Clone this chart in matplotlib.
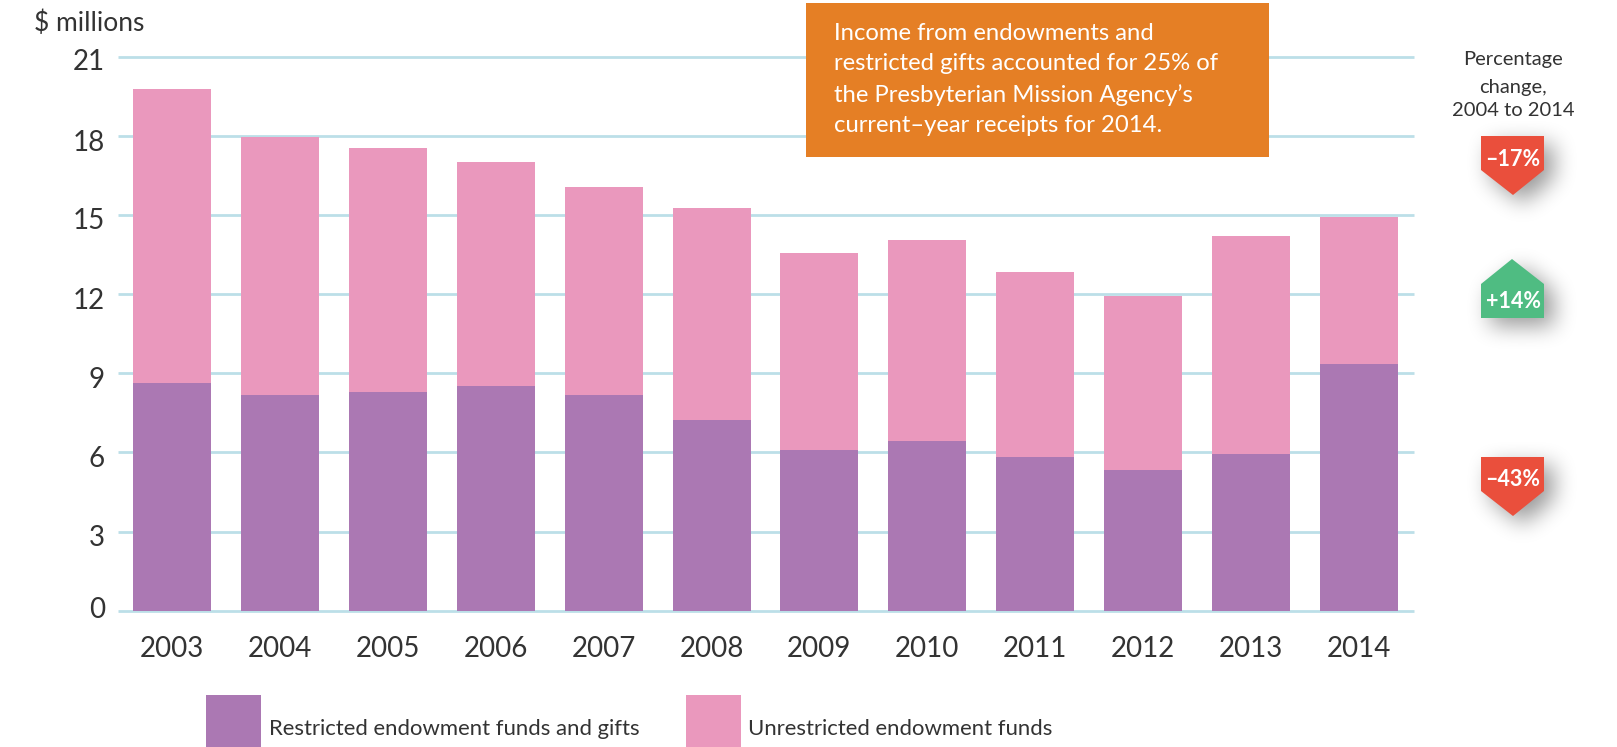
import matplotlib
matplotlib.use("Agg")
import matplotlib.pyplot as plt
import numpy as np
from matplotlib.patches import Polygon, Rectangle
from matplotlib.path import Path
from matplotlib.transforms import ScaledTranslation

plt.rcParams['font.family'] = ['Lato', 'DejaVu Sans']

W, H = 1617, 747

years = [2003, 2004, 2005, 2006, 2007, 2008, 2009, 2010, 2011, 2012, 2013, 2014]
restricted = [8.64, 8.17, 8.29, 8.52, 8.17, 7.23, 6.10, 6.45, 5.83, 5.32, 5.94, 9.34]
totals = [19.78, 17.94, 17.55, 17.00, 16.06, 15.25, 13.56, 14.07, 12.82, 11.92, 14.22, 14.93]
unrestricted = [t - r for t, r in zip(totals, restricted)]
y_ticks = [0, 3, 6, 9, 12, 15, 18, 21]
# labels do not sit exactly on the gridlines in the original (px, + is up)
y_label_shift = [3.5, -4, -4, -4, -4, -3.5, -4.3, -2.3]

restricted_label = "Restricted endowment funds and gifts"
unrestricted_label = "Unrestricted endowment funds"
callout_lines = ["Income from endowments and",
                 "restricted gifts accounted for 25% of",
                 "the Presbyterian Mission Agency\u2019s",
                 "current\u2013year receipts for 2014."]
header_lines = ["Percentage", "change,", "2004 to 2014"]
badges = ["\u201317%", "+14%", "\u201343%"]

PURPLE = '#ab78b3'
PINK = '#ea98bd'
GRID = '#bcdfe8'
ORANGE = '#e57f25'
RED = '#ea4f3c'
GREEN = '#4fbc82'
TEXT = '#333333'

fig = plt.figure(figsize=(W / 100, H / 100), dpi=100)

# main axes, pixel box taken from the gridlines
left, right, top, bottom = 118, 1414, 56.7, 610.7
step = 107.9
ax = fig.add_axes([left / W, 1 - bottom / H, (right - left) / W, (bottom - top) / H])
xpos = list(range(len(years)))
ax.bar(xpos, restricted, width=78 / step, color=PURPLE, zorder=3, label=restricted_label)
ax.bar(xpos, unrestricted, width=78 / step, bottom=restricted, color=PINK, zorder=3, label=unrestricted_label)
ax.set_xlim((left - 172) / step, (right - 172) / step)
ax.set_ylim(0, 21)
ax.set_yticks(y_ticks)
ax.set_xticks(xpos)
ax.set_xticklabels(years)
ax.grid(axis='y', color=GRID, lw=2.0, zorder=1)
ax.set_axisbelow(True)
for line in ax.get_ygridlines():
    line.set_clip_on(False)
    line.set_solid_capstyle('butt')
for s in ax.spines.values():
    s.set_visible(False)
ax.tick_params(axis='both', length=0, labelsize=20, labelcolor=TEXT)
ax.tick_params(axis='x', pad=18)
ax.tick_params(axis='y', pad=9.5)
for lab, dy in zip(ax.get_yticklabels(), y_label_shift):
    lab.set_transform(lab.get_transform() + ScaledTranslation(0, dy / 100, fig.dpi_scale_trans))

# overlay in pixel coordinates for callout, badges and legend
ov = fig.add_axes([0, 0, 1, 1], facecolor='none')
ov.set_xlim(0, W)
ov.set_ylim(H, 0)
ov.axis('off')

ov.text(34, 23, "$ millions", fontsize=19, color=TEXT, va='center')

ov.add_patch(Rectangle((806, 3), 463, 154, color=ORANGE, lw=0))
for i, txt in enumerate(callout_lines):
    ov.text(834, 33 + i * 31, txt, fontsize=17.2, color='white', va='center')

for yy, txt in zip([60, 87, 111], header_lines):
    ov.text(1513, yy, txt, fontsize=14.5, color=TEXT, ha='center', va='center')


def soft_shadow(pts, dx=9, dy=8, rounds=3, size=21, strength=0.4):
    # blurred copy of the badge shape, drawn as an image under it
    x0, x1, y0, y1 = 1430, 1610, min(p[1] for p in pts) - 45, max(p[1] for p in pts) + 55
    xx, yy = np.meshgrid(np.arange(x0, x1) + 0.5, np.arange(y0, y1) + 0.5)
    grid = np.column_stack([xx.ravel() - dx, yy.ravel() - dy])
    mask = Path(pts).contains_points(grid).reshape(xx.shape).astype(float)
    kernel = np.ones(size) / size
    for _ in range(rounds):
        mask = np.apply_along_axis(np.convolve, 0, mask, kernel, mode='same')
        mask = np.apply_along_axis(np.convolve, 1, mask, kernel, mode='same')
    img = np.zeros(mask.shape + (4,))
    img[..., 3] = mask * strength
    ov.imshow(img, extent=(x0, x1, y1, y0), aspect='auto', interpolation='bilinear')


def badge(pts, color, label, ty):
    soft_shadow(pts)
    ov.add_patch(Polygon(pts, closed=True, color=color, lw=0))
    ov.text(1513, ty, label, fontsize=15.5, fontweight='bold', color='white', ha='center', va='center')


badge([(1481, 136), (1544, 136), (1544, 170), (1513, 195), (1481, 170)], RED, badges[0], 160)
badge([(1481, 318), (1544, 318), (1544, 284), (1512, 259), (1481, 284)], GREEN, badges[1], 302)
badge([(1481, 457), (1544, 457), (1544, 491), (1513, 516), (1481, 491)], RED, badges[2], 480)
ov.set_xlim(0, W)
ov.set_ylim(H, 0)

ov.add_patch(Rectangle((206, 695), 55, 52, color=PURPLE, lw=0))
ov.add_patch(Rectangle((686, 695), 55, 52, color=PINK, lw=0))
ov.text(269, 729, restricted_label, fontsize=15.9, color=TEXT, va='center')
ov.text(748, 729, unrestricted_label, fontsize=15.9, color=TEXT, va='center')

fig.savefig("out.png", dpi=100)
